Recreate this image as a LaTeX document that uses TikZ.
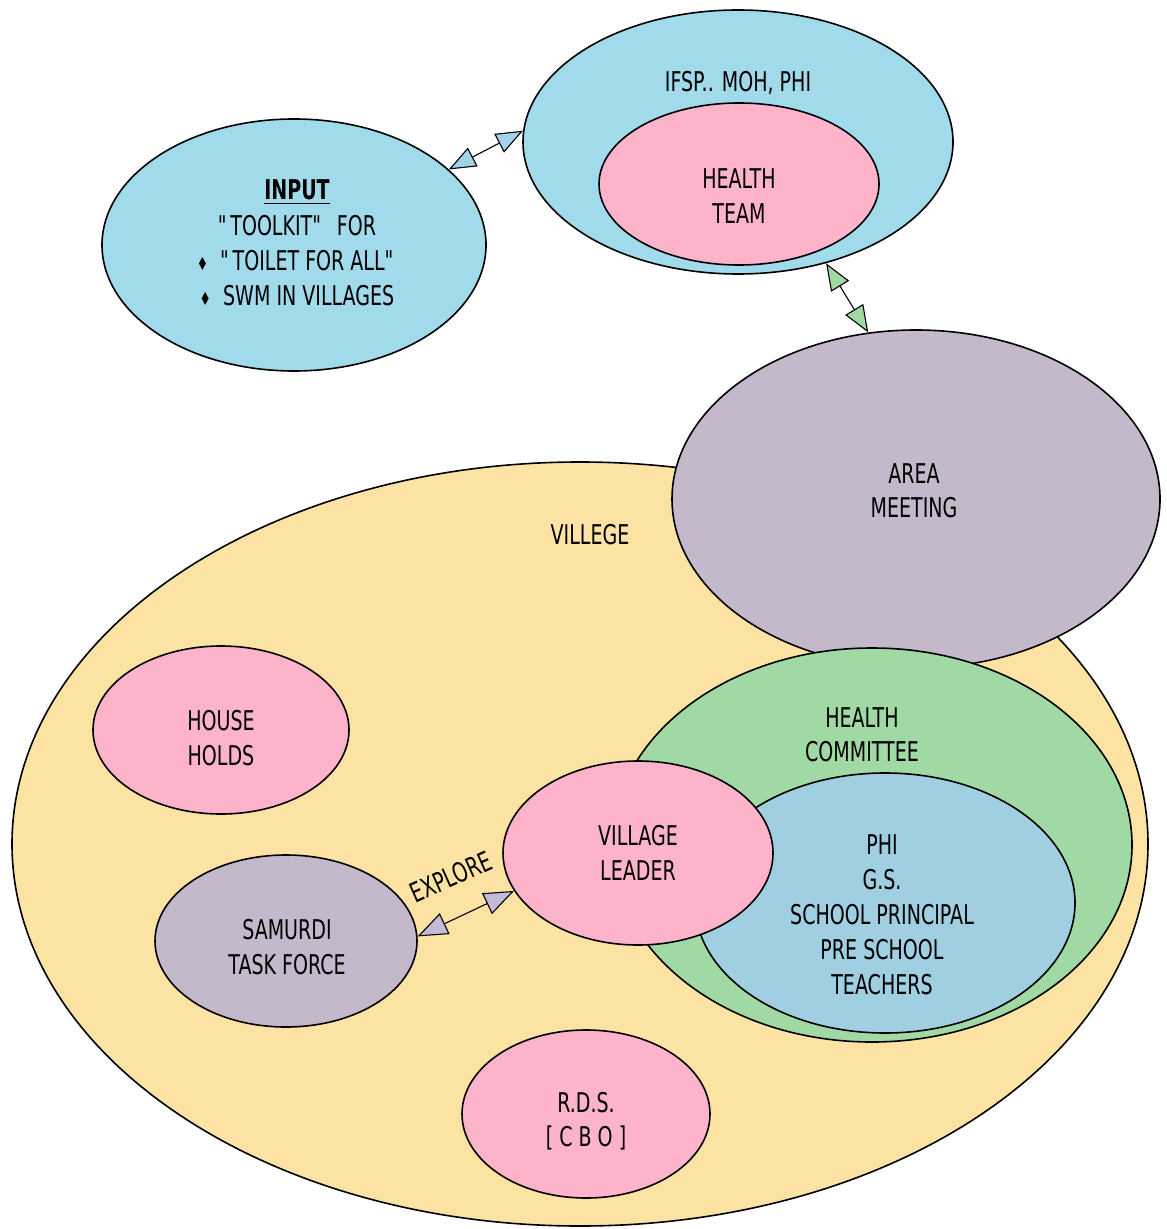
\documentclass[tikz,border=0pt]{standalone}
\usepackage{fontspec}
\setmainfont{DejaVu Sans}[FakeStretch=0.7]
\usetikzlibrary{shapes.geometric,arrows.meta}
\definecolor{cblue}{HTML}{A1DAEA}
\definecolor{cblueb}{HTML}{A0CFE1}
\definecolor{cpink}{HTML}{FDB4CB}
\definecolor{cyellow}{HTML}{FDE3A3}
\definecolor{cpurple}{HTML}{C4B8CB}
\definecolor{cgreen}{HTML}{A1D9A4}
\definecolor{ablue}{HTML}{A3D3E8}
\definecolor{agreen}{HTML}{A1D9A0}
\definecolor{apurple}{HTML}{C3BAD8}
\begin{document}
\begin{tikzpicture}[x=0.5pt,y=-0.5pt,
  blob/.style={ellipse, draw=black, line width=0.8pt, inner sep=0pt},
  lbl/.style={align=center, inner sep=0pt, font=\fontsize{13.6}{17.2}\selectfont},
  twoway/.style={line width=0.55pt,
    {Triangle[length=13.5pt,width=10.5pt,fill=#1,line width=0.55pt]}-{Triangle[length=13.5pt,width=10.5pt,fill=#1,line width=0.55pt]}},
]
\useasboundingbox (0,0) rectangle (1166,1229);

% top group
\node[blob, fill=cblue, minimum width=215pt, minimum height=132pt] (ifsp) at (738,142) {};
\node[blob, fill=cpink, minimum width=140pt, minimum height=81pt] (team) at (739,184) {};
\node[blob, fill=cblue, minimum width=192pt, minimum height=126pt] (input) at (294,245) {};

% village group
\node[blob, fill=cyellow, minimum width=568pt, minimum height=382pt] (village) at (580,844) {};
\node[blob, fill=cpurple, minimum width=244pt, minimum height=169pt] (area) at (916,499) {};
\node[blob, fill=cgreen, minimum width=260pt, minimum height=197pt] (committee) at (872,845) {};
\node[blob, fill=cblueb, minimum width=190pt, minimum height=130pt] (members) at (885,903) {};
\node[blob, fill=cpink, minimum width=135pt, minimum height=92pt] (leader) at (638,853) {};
\node[blob, fill=cpink, minimum width=128pt, minimum height=84pt] (house) at (221,730) {};
\node[blob, fill=cpurple, minimum width=131pt, minimum height=86pt] (samurdi) at (286,941) {};
\node[blob, fill=cpink, minimum width=124pt, minimum height=84pt] (rds) at (586,1114) {};

% texts
\node[lbl] (ifspT) at (738,83) {IFSP.. MOH, PHI};
\node[lbl] (teamT) at (739,196) {HEALTH\\TEAM};
\node[lbl, font=\fontsize{13.6}{17.6}\selectfont] (inputT) at (297,243)
  {\textbf{\underline{INPUT}}\\\textquotedbl TOOLKIT\textquotedbl\ \ FOR\\{\small♦}\ \ \textquotedbl TOILET FOR ALL\textquotedbl\\{\small♦}\ \ SWM IN VILLAGES};
\node[lbl] (areaT) at (914,491) {AREA\\MEETING};
\node[lbl] (villegeT) at (590,535) {VILLEGE};
\node[lbl] (houseT) at (221,738) {HOUSE\\HOLDS};
\node[lbl] (committeeT) at (862,735) {HEALTH\\COMMITTEE};
\node[lbl] (leaderT) at (638,853) {VILLAGE\\LEADER};
\node[lbl, font=\fontsize{13.6}{17.5}\selectfont] (membersT) at (882,915)
  {PHI\\G.S.\\SCHOOL PRINCIPAL\\PRE SCHOOL\\TEACHERS};
\node[lbl] (samurdiT) at (287,947) {SAMURDI\\TASK FORCE};
\node[lbl] (rdsT) at (586,1121) {R.D.S.\\{}[ C B O ]};
\node[lbl, rotate=24] (exploreT) at (451,877) {EXPLORE};

% connectors
\draw[twoway=ablue] (input.26) -- (ifsp.177);
\draw[twoway=agreen] (ifsp.-54) -- (area.106);
\draw[twoway=apurple, {Triangle[length=15pt,width=11.5pt,fill=apurple,line width=0.55pt]}-{Triangle[length=15pt,width=11.5pt,fill=apurple,line width=0.55pt]}] (samurdi.2) -- (leader.197);
\end{tikzpicture}
\end{document}
